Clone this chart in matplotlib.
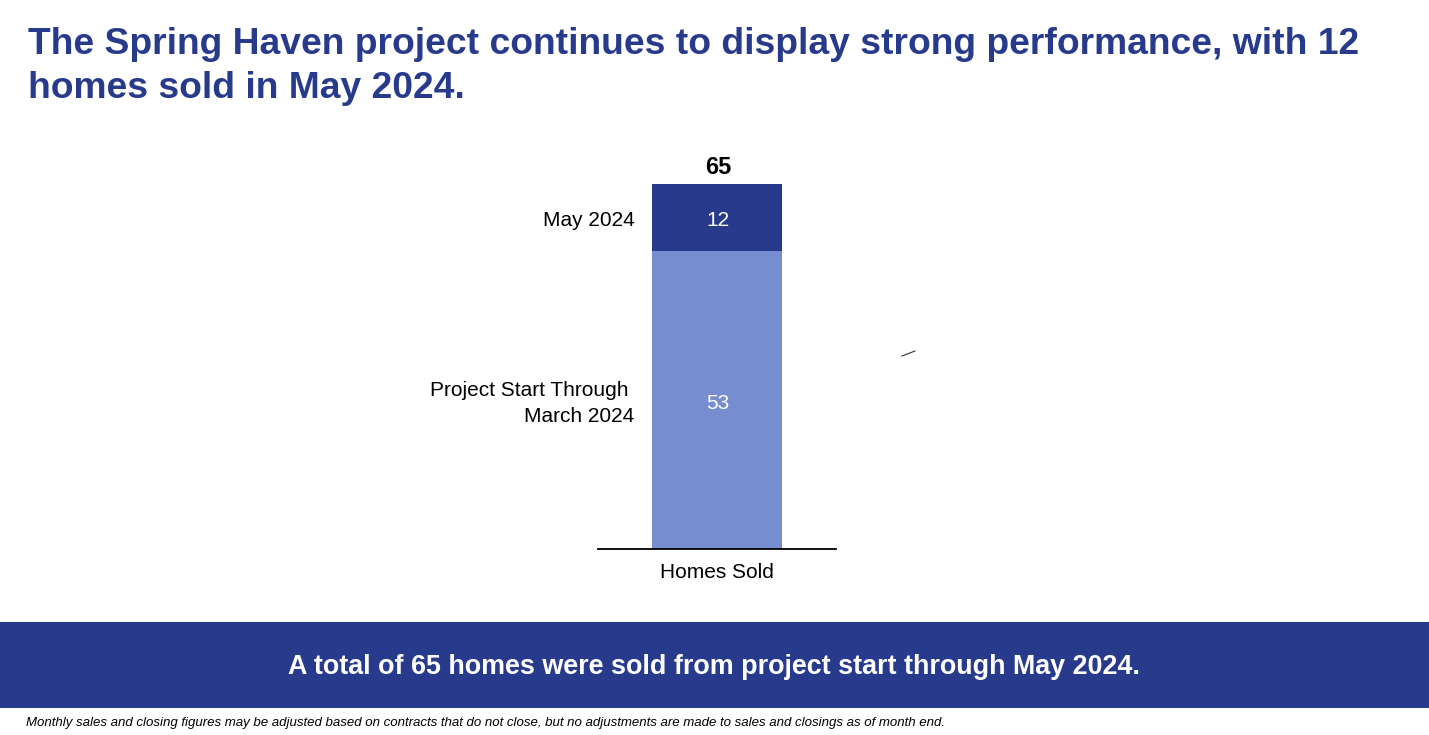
import matplotlib.pyplot as plt
from matplotlib.patches import Rectangle
from matplotlib.lines import Line2D

plt.rcParams["font.family"] = ["Liberation Sans", "DejaVu Sans"]

# data
category = "Homes Sold"
segments = ["Project Start Through \nMarch 2024", "May 2024"]
values = [53, 12]
colors = ["#768dcf", "#283a8b"]
navy = "#283a8b"

title = ("The Spring Haven project continues to display strong performance, with 12\n"
         "homes sold in May 2024.")
banner = "A total of 65 homes were sold from project start through May 2024."
footnote = ("Monthly sales and closing figures may be adjusted based on contracts that do not close, "
            "but no adjustments are made to sales and closings as of month end.")

W, H = 1429, 735
fig = plt.figure(figsize=(W / 100, H / 100), dpi=100)

# title
fig.text(28 / W, 1 - 27 / H, title, ha="left", va="top", fontsize=26.8,
         fontweight="bold", color=navy, linespacing=1.33)

# chart axes: line from x=598 to 836, bottom at y=549, top of bar at y=184
ax = fig.add_axes([598 / W, 1 - 549 / H, 238 / W, 365 / H])
ax.set_xlim(-0.5, 0.5)
ax.set_ylim(0, sum(values))
shift = 0.55  # ~3 px downward nudge for label centres
bottom = 0
for seg, v, c in zip(segments, values, colors):
    ax.bar(0, v, width=0.55, bottom=bottom, color=c, edgecolor="none")
    ax.text(0.005, bottom + v / 2 - shift, str(v), ha="center", va="center",
            color="white", fontsize=15)
    ax.text(-0.347, bottom + v / 2 - shift, seg, ha="right", va="center", color="black",
            fontsize=15, multialignment="right", linespacing=1.5)
    bottom += v
ax.text(0.005, bottom + 0.85, str(bottom), ha="center", va="bottom", fontsize=17,
        fontweight="bold", clip_on=False)

for s in ["top", "left", "right"]:
    ax.spines[s].set_visible(False)
ax.spines["bottom"].set_linewidth(1.3)
ax.set_yticks([])
ax.set_xticks([0])
ax.set_xticklabels([category], fontsize=15)
ax.tick_params(axis="x", length=0, pad=10)

# stray tick mark
fig.add_artist(Line2D([902 / W, 915 / W], [1 - 356 / H, 1 - 351 / H], color="#333333", lw=0.8))

# banner
fig.add_artist(Rectangle((0, 1 - 708 / H), 1, 86 / H, transform=fig.transFigure,
                         facecolor=navy, edgecolor="none"))
fig.text(0.5, 1 - 667 / H, banner, ha="center", va="center", color="white",
         fontsize=19.4, fontweight="bold")

# footnote
fig.text(26 / W, 1 - 723 / H, footnote, ha="left", va="center", fontsize=9.55,
         style="italic", color="black")

fig.savefig("out.png", dpi=100)
